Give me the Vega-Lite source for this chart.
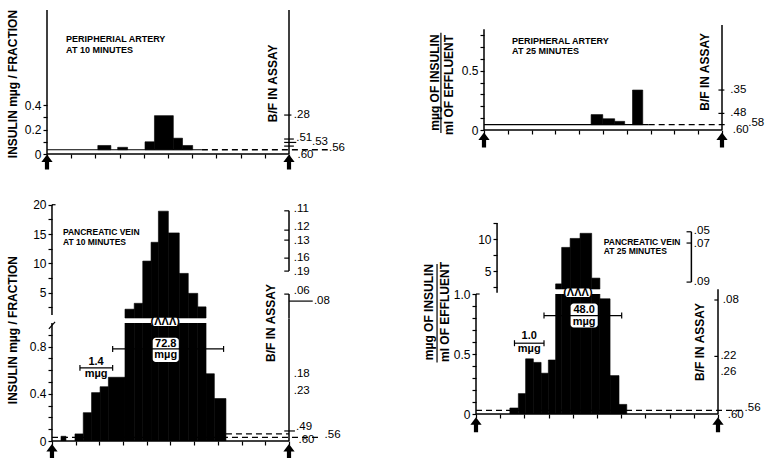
{
  "$schema": "https://vega.github.io/schema/vega-lite/v6.json",
  "background": "white",
  "padding": {"left": 6, "top": 9, "right": 5, "bottom": 5},
  "config": {
    "view": {"stroke": null},
    "axis": {"labelFont": "Liberation Sans", "labelColor": "black", "tickColor": "black", "labelFontSize": 12, "grid": false, "title": null, "domain": false, "tickWidth": 1.2, "tickSize": 4, "labelPadding": 2, "labelOverlap": false}
  },
  "datasets": {
    "p1": [
      {"k": "bar", "x": 2.1, "x2": 2.64, "y": 0.07},
      {"k": "bar", "x": 2.92, "x2": 3.33, "y": 0.055},
      {"k": "bar", "x": 4.05, "x2": 4.44, "y": 0.1},
      {"k": "bar", "x": 4.44, "x2": 5.22, "y": 0.315},
      {"k": "bar", "x": 5.22, "x2": 5.6, "y": 0.13},
      {"k": "bar", "x": 5.6, "x2": 6.02, "y": 0.07},
      {"k": "axis", "x": 0, "x2": 10, "y": 0, "y2": 0},
      {"k": "axis", "x": 0, "x2": 0, "y": 0, "y2": 1.183},
      {"k": "axis", "x": 10, "x2": 10, "y": 0, "y2": 1.183},
      {"k": "seg", "x": 0, "x2": 6.4, "y": 0.035, "y2": 0.035},
      {"k": "seg", "x": 9.8, "x2": 10.1, "y": 0.32, "y2": 0.32},
      {"k": "seg", "x": 9.8, "x2": 10.2, "y": 0.123, "y2": 0.123},
      {"k": "seg", "x": 9.8, "x2": 10.3, "y": 0.095, "y2": 0.095},
      {"k": "seg", "x": 9.8, "x2": 10.2, "y": 0.065, "y2": 0.065},
      {"k": "dash", "x": 6.4, "x2": 11.6, "y": 0.035, "y2": 0.035},
      {"k": "rlab", "x": 10.2, "y": 0.32, "t": ".28"},
      {"k": "rlab", "x": 10.3, "y": 0.135, "t": ".51"},
      {"k": "rlab", "x": 10.95, "y": 0.1, "t": ".53"},
      {"k": "rlab", "x": 11.65, "y": 0.047, "t": ".56"},
      {"k": "rlab", "x": 10.35, "y": -0.005, "t": ".60"},
      {"k": "note", "x": 0.79, "y": 0.945, "t": "PERIPHERIAL ARTERY"},
      {"k": "note", "x": 0.79, "y": 0.855, "t": "AT 10 MINUTES"},
      {"k": "title", "x": -1.4, "y": 0.575, "t": "INSULIN mµg / FRACTION"},
      {"k": "title", "x": 9.34, "y": 0.58, "t": "B/F IN ASSAY"},
      {"k": "arrow", "x": 0, "y": -0.066},
      {"k": "arrow", "x": 10, "y": -0.066}
    ],
    "p2": [
      {"k": "bar", "x": 4.5, "x2": 4.99, "y": 0.13},
      {"k": "bar", "x": 4.99, "x2": 5.49, "y": 0.095},
      {"k": "bar", "x": 5.49, "x2": 5.91, "y": 0.073},
      {"k": "bar", "x": 6.24, "x2": 6.67, "y": 0.337},
      {"k": "axis", "x": 0, "x2": 10, "y": 0, "y2": 0},
      {"k": "axis", "x": 0, "x2": 0, "y": 0, "y2": 0.85},
      {"k": "axis", "x": 10, "x2": 10, "y": 0, "y2": 0.885},
      {"k": "seg", "x": 0, "x2": 6.92, "y": 0.045, "y2": 0.045},
      {"k": "seg", "x": 9.85, "x2": 10.1, "y": 0.337, "y2": 0.337},
      {"k": "seg", "x": 9.85, "x2": 10.1, "y": 0.14, "y2": 0.14},
      {"k": "seg", "x": -1.81, "x2": -1.81, "y": -0.025, "y2": 0.82},
      {"k": "dash", "x": 6.92, "x2": 10.25, "y": 0.045, "y2": 0.045},
      {"k": "rlab", "x": 10.35, "y": 0.337, "t": ".35"},
      {"k": "rlab", "x": 10.35, "y": 0.14, "t": ".48"},
      {"k": "rlab", "x": 11.1, "y": 0.059, "t": ".58"},
      {"k": "rlab", "x": 10.45, "y": 0.0, "t": ".60"},
      {"k": "note", "x": 1.18, "y": 0.752, "t": "PERIPHERAL ARTERY"},
      {"k": "note", "x": 1.18, "y": 0.67, "t": "AT 25 MINUTES"},
      {"k": "title", "x": -2.06, "y": 0.4, "t": "mµg OF INSULIN"},
      {"k": "title", "x": -1.47, "y": 0.38, "t": "ml OF EFFLUENT"},
      {"k": "title", "x": 9.29, "y": 0.49, "t": "B/F IN ASSAY"},
      {"k": "arrow", "x": 0, "y": -0.084},
      {"k": "arrow", "x": 10, "y": -0.084}
    ],
    "pv10": [
      {"x": 0.38, "x2": 0.59, "y": 0.04},
      {"x": 0.97, "x2": 1.32, "y": 0.06},
      {"x": 1.32, "x2": 1.67, "y": 0.24},
      {"x": 1.67, "x2": 2.03, "y": 0.41},
      {"x": 2.03, "x2": 2.38, "y": 0.46},
      {"x": 2.38, "x2": 3.08, "y": 0.54},
      {"x": 3.08, "x2": 3.47, "y": 2.2},
      {"x": 3.47, "x2": 3.83, "y": 3.2},
      {"x": 3.83, "x2": 4.18, "y": 10.4},
      {"x": 4.18, "x2": 4.49, "y": 13.6},
      {"x": 4.49, "x2": 4.91, "y": 18.9},
      {"x": 4.91, "x2": 5.37, "y": 15.2},
      {"x": 5.37, "x2": 5.75, "y": 8.3},
      {"x": 5.75, "x2": 6.15, "y": 4.9},
      {"x": 6.15, "x2": 6.5, "y": 2.6},
      {"x": 6.5, "x2": 6.85, "y": 0.57},
      {"x": 6.85, "x2": 7.34, "y": 0.36}
    ],
    "p3u": [
      {"k": "axis", "x": 0, "x2": 0, "y": 1.2, "y2": 20},
      {"k": "axis", "x": 10, "x2": 10, "y": 0.7, "y2": 4.77},
      {"k": "axis", "x": 10, "x2": 10, "y": 8.69, "y2": 18.96},
      {"k": "seg", "x": 0, "x2": 0.15, "y": 20, "y2": 20},
      {"k": "seg", "x": 9.8, "x2": 10, "y": 18.96, "y2": 18.96},
      {"k": "seg", "x": 9.8, "x2": 10, "y": 15.67, "y2": 15.67},
      {"k": "seg", "x": 9.8, "x2": 10, "y": 13.97, "y2": 13.97},
      {"k": "seg", "x": 9.8, "x2": 10, "y": 10.9, "y2": 10.9},
      {"k": "seg", "x": 9.8, "x2": 10, "y": 8.69, "y2": 8.69},
      {"k": "seg", "x": 9.8, "x2": 10, "y": 4.77, "y2": 4.77},
      {"k": "seg", "x": 10, "x2": 11.0, "y": 3.58, "y2": 3.58},
      {"k": "rlab", "x": 10.2, "y": 19.3, "t": ".11"},
      {"k": "rlab", "x": 10.2, "y": 16.2, "t": ".12"},
      {"k": "rlab", "x": 10.2, "y": 13.9, "t": ".13"},
      {"k": "rlab", "x": 10.2, "y": 11.0, "t": ".16"},
      {"k": "rlab", "x": 10.2, "y": 8.5, "t": ".19"},
      {"k": "rlab", "x": 10.2, "y": 5.3, "t": ".06"},
      {"k": "rlab", "x": 11.05, "y": 3.58, "t": ".08"},
      {"k": "note", "x": 0.46, "y": 15.4, "t": "PANCREATIC VEIN"},
      {"k": "note", "x": 0.46, "y": 13.7, "t": "AT 10 MINUTES"}
    ],
    "p3l": [
      {"k": "axis", "x": 0, "x2": 10, "y": 0, "y2": 0},
      {"k": "axis", "x": 0, "x2": 0, "y": 0, "y2": 1.0},
      {"k": "axis", "x": 10, "x2": 10, "y": 0, "y2": 1.04},
      {"k": "seg", "x": -0.13, "x2": 0.13, "y": 0.95, "y2": 1.01},
      {"k": "seg", "x": 9.8, "x2": 10.25, "y": 0.085, "y2": 0.085},
      {"k": "seg", "x": 1.18, "x2": 2.56, "y": 0.62, "y2": 0.62},
      {"k": "seg", "x": 1.18, "x2": 1.18, "y": 0.595, "y2": 0.645},
      {"k": "seg", "x": 2.56, "x2": 2.56, "y": 0.595, "y2": 0.645},
      {"k": "seg", "x": 2.56, "x2": 7.24, "y": 0.78, "y2": 0.78},
      {"k": "seg", "x": 2.56, "x2": 2.56, "y": 0.755, "y2": 0.805},
      {"k": "seg", "x": 7.24, "x2": 7.24, "y": 0.755, "y2": 0.805},
      {"k": "dash", "x": 0, "x2": 11.3, "y": 0.03, "y2": 0.03},
      {"k": "dash", "x": 7.34, "x2": 10, "y": 0.06, "y2": 0.06},
      {"k": "box", "x": 4.25, "x2": 5.35, "y": 0.67, "y2": 0.875},
      {"k": "box", "x": 4.18, "x2": 5.37, "y": 0.975, "y2": 1.045},
      {"k": "btxt", "x": 1.86, "y": 0.668, "t": "1.4"},
      {"k": "btxt", "x": 1.86, "y": 0.571, "t": "mµg"},
      {"k": "btxt", "x": 4.8, "y": 0.825, "t": "72.8"},
      {"k": "btxt", "x": 4.8, "y": 0.725, "t": "mµg"},
      {"k": "btxt", "x": 4.78, "y": 1.008, "t": "(ΛΛΛ)"},
      {"k": "title", "x": -1.65, "y": 0.94, "t": "INSULIN mµg / FRACTION"},
      {"k": "title", "x": 9.24, "y": 1.0, "t": "B/F IN ASSAY"},
      {"k": "rlab", "x": 10.2, "y": 0.566, "t": ".18"},
      {"k": "rlab", "x": 10.2, "y": 0.42, "t": ".23"},
      {"k": "rlab", "x": 10.3, "y": 0.12, "t": ".49"},
      {"k": "rlab", "x": 11.5, "y": 0.053, "t": ".56"},
      {"k": "rlab", "x": 10.4, "y": 0.005, "t": ".60"},
      {"k": "arrow", "x": 0, "y": -0.088},
      {"k": "arrow", "x": 10, "y": -0.088}
    ],
    "pv25": [
      {"x": 1.4, "x2": 1.75, "y": 0.05},
      {"x": 1.75, "x2": 2.05, "y": 0.17},
      {"x": 2.05, "x2": 2.37, "y": 0.46},
      {"x": 2.37, "x2": 2.69, "y": 0.43},
      {"x": 2.69, "x2": 2.99, "y": 0.34},
      {"x": 2.99, "x2": 3.29, "y": 0.45},
      {"x": 3.29, "x2": 3.54, "y": 3.0},
      {"x": 3.54, "x2": 3.89, "y": 8.7},
      {"x": 3.89, "x2": 4.3, "y": 10.1},
      {"x": 4.3, "x2": 4.78, "y": 10.9},
      {"x": 4.78, "x2": 5.12, "y": 3.9},
      {"x": 5.12, "x2": 5.54, "y": 0.96},
      {"x": 5.54, "x2": 5.91, "y": 0.32},
      {"x": 5.91, "x2": 6.23, "y": 0.08}
    ],
    "p4u": [
      {"k": "axis", "x": 0.87, "x2": 0.87, "y": 1.6, "y2": 12.5},
      {"k": "axis", "x": 8.9, "x2": 8.9, "y": 3.28, "y2": 11.14},
      {"k": "seg", "x": 8.7, "x2": 8.9, "y": 11.14, "y2": 11.14},
      {"k": "seg", "x": 8.7, "x2": 8.9, "y": 9.38, "y2": 9.38},
      {"k": "seg", "x": 8.7, "x2": 8.9, "y": 3.28, "y2": 3.28},
      {"k": "rlab", "x": 9.0, "y": 11.3, "t": ".05"},
      {"k": "rlab", "x": 9.0, "y": 9.2, "t": ".07"},
      {"k": "rlab", "x": 9.0, "y": 3.3, "t": ".09"},
      {"k": "note", "x": 5.28, "y": 9.58, "t": "PANCREATIC VEIN"},
      {"k": "note", "x": 5.28, "y": 8.1, "t": "AT 25 MINUTES"}
    ],
    "p4l": [
      {"k": "axis", "x": 0, "x2": 10, "y": 0, "y2": 0},
      {"k": "axis", "x": 0, "x2": 0, "y": 0, "y2": 1.0},
      {"k": "axis", "x": 10, "x2": 10, "y": 0, "y2": 1.04},
      {"k": "seg", "x": 0, "x2": 0.15, "y": 1.0, "y2": 1.0},
      {"k": "seg", "x": 9.85, "x2": 10, "y": 0.95, "y2": 0.95},
      {"k": "seg", "x": 9.85, "x2": 10, "y": 0.48, "y2": 0.48},
      {"k": "seg", "x": 1.59, "x2": 2.81, "y": 0.59, "y2": 0.59},
      {"k": "seg", "x": 1.59, "x2": 1.59, "y": 0.565, "y2": 0.615},
      {"k": "seg", "x": 2.81, "x2": 2.81, "y": 0.565, "y2": 0.615},
      {"k": "seg", "x": 2.81, "x2": 6.02, "y": 0.82, "y2": 0.82},
      {"k": "seg", "x": 2.81, "x2": 2.81, "y": 0.795, "y2": 0.845},
      {"k": "seg", "x": 6.02, "x2": 6.02, "y": 0.795, "y2": 0.845},
      {"k": "seg", "x": -1.61, "x2": -1.61, "y": 0.43, "y2": 1.25},
      {"k": "dash", "x": 0, "x2": 11.0, "y": 0.03, "y2": 0.03},
      {"k": "box", "x": 3.91, "x2": 5.03, "y": 0.72, "y2": 0.92},
      {"k": "box", "x": 3.65, "x2": 4.78, "y": 0.975, "y2": 1.045},
      {"k": "btxt", "x": 2.2, "y": 0.65, "t": "1.0"},
      {"k": "btxt", "x": 2.2, "y": 0.545, "t": "mµg"},
      {"k": "btxt", "x": 4.47, "y": 0.87, "t": "48.0"},
      {"k": "btxt", "x": 4.47, "y": 0.765, "t": "mµg"},
      {"k": "btxt", "x": 4.21, "y": 1.008, "t": "(ΛΛΛ)"},
      {"k": "title", "x": -1.95, "y": 0.85, "t": "mµg OF INSULIN"},
      {"k": "title", "x": -1.27, "y": 0.85, "t": "ml OF EFFLUENT"},
      {"k": "title", "x": 9.26, "y": 0.6, "t": "B/F IN ASSAY"},
      {"k": "rlab", "x": 10.2, "y": 0.95, "t": ".08"},
      {"k": "rlab", "x": 10.1, "y": 0.48, "t": ".22"},
      {"k": "rlab", "x": 10.1, "y": 0.35, "t": ".26"},
      {"k": "rlab", "x": 11.1, "y": 0.05, "t": ".56"},
      {"k": "rlab", "x": 10.4, "y": -0.01, "t": ".60"},
      {"k": "arrow", "x": 0, "y": -0.09},
      {"k": "arrow", "x": 10, "y": -0.09}
    ]
  },
  "spacing": 77,
  "hconcat": [
    {
      "spacing": 5,
      "bounds": "flush",
      "vconcat": [
        {
          "width": 242, "height": 144,
          "data": {"name": "p1"},
          "encoding": {
            "x": {"field": "x", "type": "quantitative", "scale": {"domain": [0, 10], "nice": false, "zero": false}, "axis": {"values": [0,1,2,3,4,5,6,7,8,9,10], "labels": false}},
            "y": {"field": "y", "type": "quantitative", "scale": {"domain": [0, 1.183], "nice": false, "zero": false}, "axis": {"values": [0, 0.1, 0.2, 0.3, 0.4], "format": ".1f", "labelExpr": "datum.label == '0.0' ? '0' : ((datum.label == '0.2' || datum.label == '0.4') ? datum.label : '')"}}
          },
          "layer": [
            {"transform": [{"filter": "datum.k == 'dash'"}], "mark": {"type": "rule", "color": "black", "strokeWidth": 1.3, "strokeDash": [6, 4]}, "encoding": {"x2": {"field": "x2"}, "y2": {"field": "y2"}}},
            {"transform": [{"filter": "datum.k == 'bar'"}], "mark": {"type": "rect", "color": "black", "stroke": "black", "strokeWidth": 0.6}, "encoding": {"x2": {"field": "x2"}, "y2": {"datum": 0.035}}},
            {"transform": [{"filter": "datum.k == 'axis'"}], "mark": {"type": "rule", "color": "black", "strokeWidth": 1.5}, "encoding": {"x2": {"field": "x2"}, "y2": {"field": "y2"}}},
            {"transform": [{"filter": "datum.k == 'seg'"}], "mark": {"type": "rule", "color": "black", "strokeWidth": 1.2}, "encoding": {"x2": {"field": "x2"}, "y2": {"field": "y2"}}},
            {"transform": [{"filter": "datum.k == 'rlab'"}], "mark": {"type": "text", "align": "left", "baseline": "middle", "fontSize": 11.5, "font": "Liberation Sans", "color": "black"}, "encoding": {"text": {"field": "t"}}},
            {"transform": [{"filter": "datum.k == 'note'"}], "mark": {"type": "text", "align": "left", "baseline": "middle", "fontSize": 9, "fontWeight": "bold", "font": "Liberation Sans", "color": "black"}, "encoding": {"text": {"field": "t"}}},
            {"transform": [{"filter": "datum.k == 'title'"}], "mark": {"type": "text", "align": "center", "baseline": "middle", "angle": 270, "fontSize": 12, "fontWeight": "bold", "font": "Liberation Sans", "color": "black"}, "encoding": {"text": {"field": "t"}}},
            {"transform": [{"filter": "datum.k == 'arrow'"}], "mark": {"type": "point", "shape": "M0,-1L0.75,0L0.28,0L0.28,1L-0.28,1L-0.28,0L-0.75,0Z", "filled": true, "color": "black", "opacity": 1, "size": 225}}
          ]
        },
        {
          "width": 242, "height": 159,
          "data": {"name": "p3u"},
          "encoding": {
            "x": {"field": "x", "type": "quantitative", "scale": {"domain": [-0.21, 10], "nice": false, "zero": false}, "axis": null},
            "y": {"field": "y", "type": "quantitative", "scale": {"domain": [0.7, 27.79], "nice": false, "zero": false}, "axis": {"values": [2.5, 5, 7.5, 10, 12.5, 15, 17.5, 20], "format": "d", "labelExpr": "datum.value % 5 == 0 ? datum.label : ''", "offset": -5}}
          },
          "layer": [
            {"data": {"name": "pv10"}, "transform": [{"filter": "datum.y > 1"}], "mark": {"type": "rect", "color": "black", "stroke": "black", "strokeWidth": 0.6}, "encoding": {"x2": {"field": "x2"}, "y2": {"datum": 0.7}}},
            {"transform": [{"filter": "datum.k == 'axis'"}], "mark": {"type": "rule", "color": "black", "strokeWidth": 1.5}, "encoding": {"x2": {"field": "x2"}, "y2": {"field": "y2"}}},
            {"transform": [{"filter": "datum.k == 'seg'"}], "mark": {"type": "rule", "color": "black", "strokeWidth": 1.2}, "encoding": {"x2": {"field": "x2"}, "y2": {"field": "y2"}}},
            {"transform": [{"filter": "datum.k == 'rlab'"}], "mark": {"type": "text", "align": "left", "baseline": "middle", "fontSize": 11.5, "font": "Liberation Sans", "color": "black"}, "encoding": {"text": {"field": "t"}}},
            {"transform": [{"filter": "datum.k == 'note'"}], "mark": {"type": "text", "align": "left", "baseline": "middle", "fontSize": 8.5, "fontWeight": "bold", "font": "Liberation Sans", "color": "black"}, "encoding": {"text": {"field": "t"}}}
          ]
        },
        {
          "width": 242, "height": 118,
          "data": {"name": "p3l"},
          "encoding": {
            "x": {"field": "x", "type": "quantitative", "scale": {"domain": [-0.21, 10], "nice": false, "zero": false}, "axis": {"values": [0,1,2,3,4,5,6,7,8,9,10], "labels": false}},
            "y": {"field": "y", "type": "quantitative", "scale": {"domain": [0, 1.0], "nice": false, "zero": false}, "axis": {"values": [0, 0.1, 0.2, 0.3, 0.4, 0.5, 0.6, 0.7, 0.8, 0.9], "format": ".1f", "labelExpr": "datum.label == '0.0' ? '0' : ((datum.label == '0.4' || datum.label == '0.8') ? datum.label : '')", "offset": -5}}
          },
          "layer": [
            {"transform": [{"filter": "datum.k == 'dash'"}], "mark": {"type": "rule", "color": "black", "strokeWidth": 1.3, "strokeDash": [6, 4]}, "encoding": {"x2": {"field": "x2"}, "y2": {"field": "y2"}}},
            {"data": {"name": "pv10"}, "mark": {"type": "rect", "color": "black", "stroke": "black", "strokeWidth": 0.6, "clip": true}, "encoding": {"x2": {"field": "x2"}, "y2": {"datum": 0}}},
            {"transform": [{"filter": "datum.k == 'box'"}], "mark": {"type": "rect", "color": "white", "cornerRadius": 3}, "encoding": {"x2": {"field": "x2"}, "y2": {"field": "y2"}}},
            {"transform": [{"filter": "datum.k == 'axis'"}], "mark": {"type": "rule", "color": "black", "strokeWidth": 1.5}, "encoding": {"x2": {"field": "x2"}, "y2": {"field": "y2"}}},
            {"transform": [{"filter": "datum.k == 'seg'"}], "mark": {"type": "rule", "color": "black", "strokeWidth": 1.2}, "encoding": {"x2": {"field": "x2"}, "y2": {"field": "y2"}}},
            {"transform": [{"filter": "datum.k == 'rlab'"}], "mark": {"type": "text", "align": "left", "baseline": "middle", "fontSize": 11.5, "font": "Liberation Sans", "color": "black"}, "encoding": {"text": {"field": "t"}}},
            {"transform": [{"filter": "datum.k == 'btxt'"}], "mark": {"type": "text", "align": "center", "baseline": "middle", "fontSize": 11, "fontWeight": "bold", "font": "Liberation Sans", "color": "black"}, "encoding": {"text": {"field": "t"}}},
            {"transform": [{"filter": "datum.k == 'title'"}], "mark": {"type": "text", "align": "center", "baseline": "middle", "angle": 270, "fontSize": 12, "fontWeight": "bold", "font": "Liberation Sans", "color": "black"}, "encoding": {"text": {"field": "t"}}},
            {"transform": [{"filter": "datum.k == 'arrow'"}], "mark": {"type": "point", "shape": "M0,-1L0.75,0L0.28,0L0.28,1L-0.28,1L-0.28,0L-0.75,0Z", "filled": true, "color": "black", "opacity": 1, "size": 225}}
          ]
        }
      ]
    },
    {
      "spacing": 5,
      "bounds": "flush",
      "vconcat": [
        {
          "width": 246, "height": 120,
          "data": {"name": "p2"},
          "encoding": {
            "x": {"field": "x", "type": "quantitative", "scale": {"domain": [-0.336, 10], "nice": false, "zero": false}, "axis": {"values": [0,1,2,3,4,5,6,7,8,9,10], "labels": false}},
            "y": {"field": "y", "type": "quantitative", "scale": {"domain": [0, 1.012], "nice": false, "zero": false}, "axis": {"values": [0, 0.1, 0.2, 0.3, 0.4, 0.5, 0.6, 0.7, 0.8], "format": ".1f", "labelExpr": "datum.label == '0.0' ? '0' : (datum.label == '0.5' ? datum.label : '')", "offset": -8}}
          },
          "layer": [
            {"transform": [{"filter": "datum.k == 'dash'"}], "mark": {"type": "rule", "color": "black", "strokeWidth": 1.3, "strokeDash": [6, 4]}, "encoding": {"x2": {"field": "x2"}, "y2": {"field": "y2"}}},
            {"transform": [{"filter": "datum.k == 'bar'"}], "mark": {"type": "rect", "color": "black", "stroke": "black", "strokeWidth": 0.6}, "encoding": {"x2": {"field": "x2"}, "y2": {"datum": 0.045}}},
            {"transform": [{"filter": "datum.k == 'axis'"}], "mark": {"type": "rule", "color": "black", "strokeWidth": 1.5}, "encoding": {"x2": {"field": "x2"}, "y2": {"field": "y2"}}},
            {"transform": [{"filter": "datum.k == 'seg'"}], "mark": {"type": "rule", "color": "black", "strokeWidth": 1.2}, "encoding": {"x2": {"field": "x2"}, "y2": {"field": "y2"}}},
            {"transform": [{"filter": "datum.k == 'rlab'"}], "mark": {"type": "text", "align": "left", "baseline": "middle", "fontSize": 11.5, "font": "Liberation Sans", "color": "black"}, "encoding": {"text": {"field": "t"}}},
            {"transform": [{"filter": "datum.k == 'note'"}], "mark": {"type": "text", "align": "left", "baseline": "middle", "fontSize": 9, "fontWeight": "bold", "font": "Liberation Sans", "color": "black"}, "encoding": {"text": {"field": "t"}}},
            {"transform": [{"filter": "datum.k == 'title'"}], "mark": {"type": "text", "align": "center", "baseline": "middle", "angle": 270, "fontSize": 12, "fontWeight": "bold", "font": "Liberation Sans", "color": "black"}, "encoding": {"text": {"field": "t"}}},
            {"transform": [{"filter": "datum.k == 'arrow'"}], "mark": {"type": "point", "shape": "M0,-1L0.75,0L0.28,0L0.28,1L-0.28,1L-0.28,0L-0.75,0Z", "filled": true, "color": "black", "opacity": 1, "size": 225}}
          ]
        },
        {
          "width": 242, "height": 154,
          "data": {"name": "p4u"},
          "encoding": {
            "x": {"field": "x", "type": "quantitative", "scale": {"domain": [0, 10], "nice": false, "zero": false}, "axis": null},
            "y": {"field": "y", "type": "quantitative", "scale": {"domain": [2.2, 26.26], "nice": false, "zero": false}, "axis": {"values": [2.5, 5, 7.5, 10, 12.5], "format": "d", "labelExpr": "datum.value % 5 == 0 ? datum.label : ''", "offset": -21}}
          },
          "layer": [
            {"data": {"name": "pv25"}, "transform": [{"filter": "datum.y > 1"}], "mark": {"type": "rect", "color": "black", "stroke": "black", "strokeWidth": 0.6}, "encoding": {"x2": {"field": "x2"}, "y2": {"datum": 2.2}}},
            {"transform": [{"filter": "datum.k == 'axis'"}], "mark": {"type": "rule", "color": "black", "strokeWidth": 1.5}, "encoding": {"x2": {"field": "x2"}, "y2": {"field": "y2"}}},
            {"transform": [{"filter": "datum.k == 'seg'"}], "mark": {"type": "rule", "color": "black", "strokeWidth": 1.2}, "encoding": {"x2": {"field": "x2"}, "y2": {"field": "y2"}}},
            {"transform": [{"filter": "datum.k == 'rlab'"}], "mark": {"type": "text", "align": "left", "baseline": "middle", "fontSize": 11.5, "font": "Liberation Sans", "color": "black"}, "encoding": {"text": {"field": "t"}}},
            {"transform": [{"filter": "datum.k == 'note'"}], "mark": {"type": "text", "align": "left", "baseline": "middle", "fontSize": 8.5, "fontWeight": "bold", "font": "Liberation Sans", "color": "black"}, "encoding": {"text": {"field": "t"}}}
          ]
        },
        {
          "width": 242, "height": 120,
          "data": {"name": "p4l"},
          "encoding": {
            "x": {"field": "x", "type": "quantitative", "scale": {"domain": [0, 10], "nice": false, "zero": false}, "axis": {"values": [0,1,2,3,4,5,6,7,8,9,10], "labels": false}},
            "y": {"field": "y", "type": "quantitative", "scale": {"domain": [0, 1.0], "nice": false, "zero": false}, "axis": {"values": [0, 0.1, 0.2, 0.3, 0.4, 0.5, 0.6, 0.7, 0.8, 0.9, 1.0], "format": ".1f", "labelExpr": "datum.label == '0.0' ? '0' : ((datum.label == '0.5' || datum.label == '1.0') ? datum.label : '')"}}
          },
          "layer": [
            {"transform": [{"filter": "datum.k == 'dash'"}], "mark": {"type": "rule", "color": "black", "strokeWidth": 1.3, "strokeDash": [6, 4]}, "encoding": {"x2": {"field": "x2"}, "y2": {"field": "y2"}}},
            {"data": {"name": "pv25"}, "mark": {"type": "rect", "color": "black", "stroke": "black", "strokeWidth": 0.6, "clip": true}, "encoding": {"x2": {"field": "x2"}, "y2": {"datum": 0}}},
            {"transform": [{"filter": "datum.k == 'box'"}], "mark": {"type": "rect", "color": "white", "cornerRadius": 3}, "encoding": {"x2": {"field": "x2"}, "y2": {"field": "y2"}}},
            {"transform": [{"filter": "datum.k == 'axis'"}], "mark": {"type": "rule", "color": "black", "strokeWidth": 1.5}, "encoding": {"x2": {"field": "x2"}, "y2": {"field": "y2"}}},
            {"transform": [{"filter": "datum.k == 'seg'"}], "mark": {"type": "rule", "color": "black", "strokeWidth": 1.2}, "encoding": {"x2": {"field": "x2"}, "y2": {"field": "y2"}}},
            {"transform": [{"filter": "datum.k == 'rlab'"}], "mark": {"type": "text", "align": "left", "baseline": "middle", "fontSize": 11.5, "font": "Liberation Sans", "color": "black"}, "encoding": {"text": {"field": "t"}}},
            {"transform": [{"filter": "datum.k == 'btxt'"}], "mark": {"type": "text", "align": "center", "baseline": "middle", "fontSize": 11, "fontWeight": "bold", "font": "Liberation Sans", "color": "black"}, "encoding": {"text": {"field": "t"}}},
            {"transform": [{"filter": "datum.k == 'title'"}], "mark": {"type": "text", "align": "center", "baseline": "middle", "angle": 270, "fontSize": 12, "fontWeight": "bold", "font": "Liberation Sans", "color": "black"}, "encoding": {"text": {"field": "t"}}},
            {"transform": [{"filter": "datum.k == 'arrow'"}], "mark": {"type": "point", "shape": "M0,-1L0.75,0L0.28,0L0.28,1L-0.28,1L-0.28,0L-0.75,0Z", "filled": true, "color": "black", "opacity": 1, "size": 225}}
          ]
        }
      ]
    }
  ]
}
